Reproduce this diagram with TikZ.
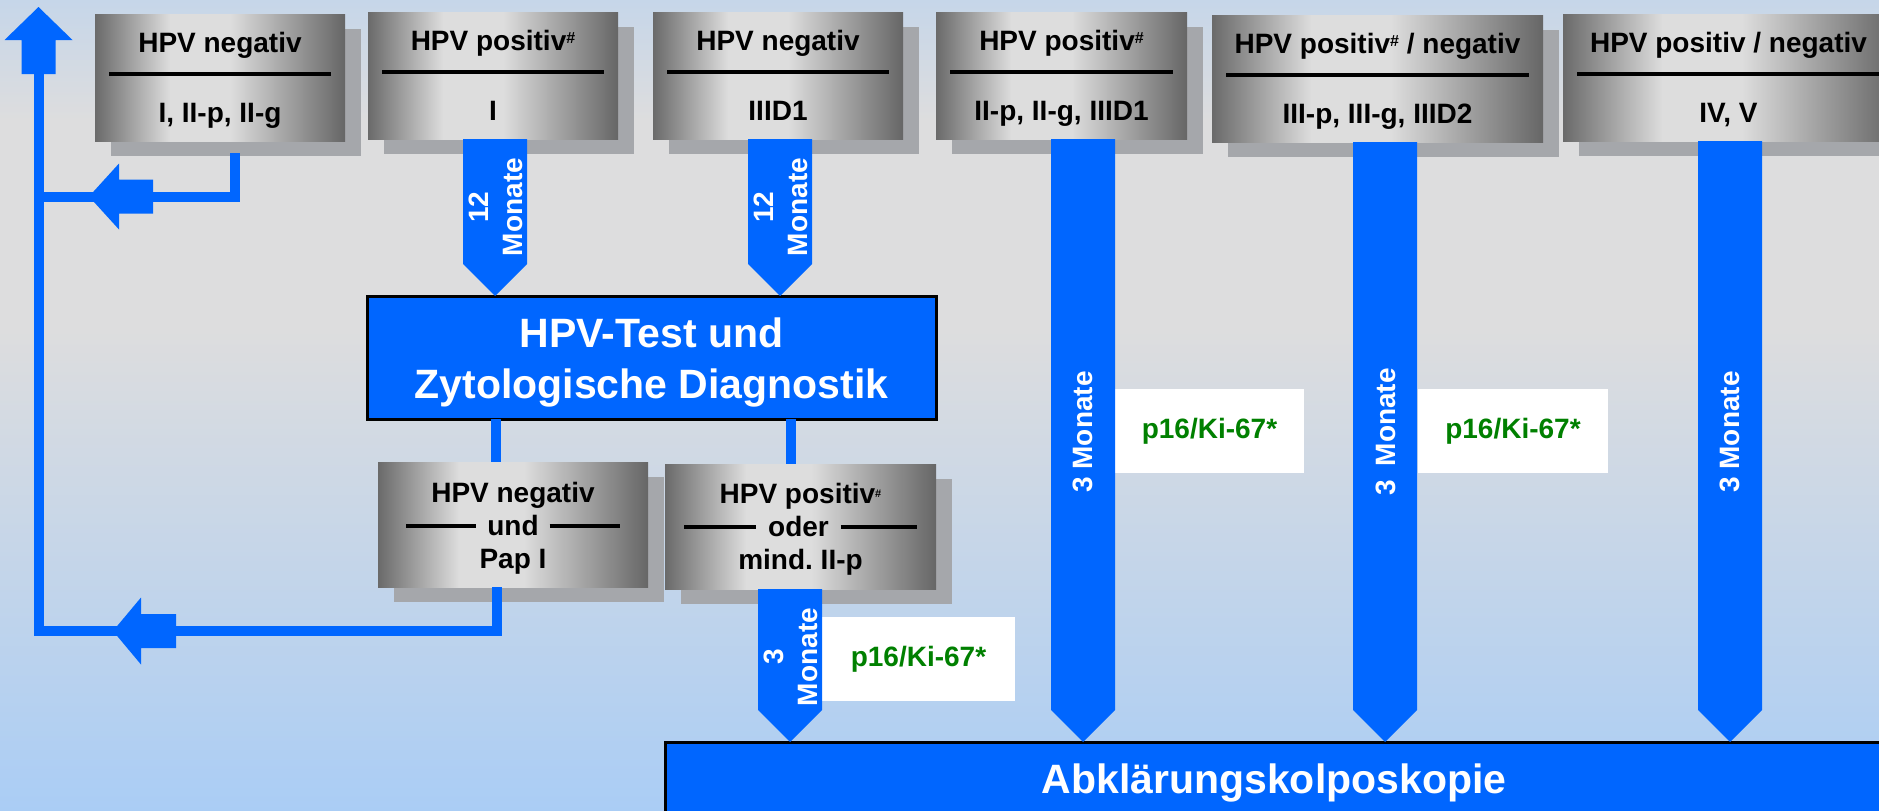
\documentclass[tikz,border=0pt]{standalone}
\usepackage{fontspec}
\setmainfont{Liberation Sans}
\usetikzlibrary{calc,shadows}
\frenchspacing
\definecolor{bgtop}{RGB}{198,214,233}
\definecolor{bgmid}{RGB}{221,221,222}
\definecolor{bgbot}{RGB}{170,205,245}
\definecolor{boxdark}{RGB}{106,106,106}
\definecolor{boxdarkR}{RGB}{102,102,102}
\definecolor{boxlight}{RGB}{221,221,221}
\definecolor{shadowc}{RGB}{165,167,171}
\definecolor{blueb}{RGB}{0,102,255}
\definecolor{greent}{RGB}{0,128,0}
\pgfdeclareverticalshading{bgshade}{100bp}{color(0bp)=(bgbot); color(25bp)=(bgbot); color(54.7bp)=(bgmid); color(67.6bp)=(bgmid); color(75bp)=(bgtop); color(100bp)=(bgtop)}
\pgfdeclarehorizontalshading{boxshade}{100bp}{color(0bp)=(boxdark); color(25bp)=(boxdark); color(40bp)=(boxlight); color(52bp)=(boxlight); color(75bp)=(boxdarkR); color(100bp)=(boxdarkR)}
\newcommand\hsh{\raisebox{7pt}{\fontsize{16pt}{16pt}\selectfont\#}}
\newcommand\hshs{\raisebox{6pt}{\fontsize{11pt}{11pt}\selectfont\#}}
\newcommand\downbar[2]{\fill[barfill] ($(#1)+(-32,0)$) -- ($(#1)+(32,0)$) -- ($(#2)+(32,-32)$) -- (#2) -- ($(#2)+(-32,-32)$) -- cycle;}
\begin{document}
\begin{tikzpicture}[x=1pt,y=-1pt,
  every node/.style={inner sep=0pt, outer sep=0pt},
  gbox/.style={shade, shading=boxshade, minimum height=127pt,
    drop shadow={shadow xshift=15.5pt, shadow yshift=-15pt, fill=shadowc, opacity=1}},
  lbox/.style={gbox, minimum height=125pt},
  txt/.style={font=\fontsize{28pt}{33pt}\selectfont\bfseries, text=black},
  bluebox/.style={fill=blueb, draw=black, line width=3pt},
  bigtxt/.style={font=\fontsize{41pt}{51pt}\selectfont\bfseries, text=white},
  rottxt/.style={font=\fontsize{28pt}{34pt}\selectfont\bfseries, text=white, rotate=90, align=center},
  greentxt/.style={font=\fontsize{28pt}{33pt}\selectfont\bfseries, text=greent},
  wbox/.style={fill=white, minimum height=84pt},
  sepl/.style={line width=4pt, draw=black},
  loopline/.style={draw=blueb, line width=10pt},
  barfill/.style={fill=blueb}]
\path[use as bounding box, clip] (0,0) rectangle (1879,811);
\shade[shading=bgshade] (0,0) rectangle (1879,811);

% top boxes
\node[gbox, minimum width=250pt] (b1) at (220,77.5) {};
\node[gbox, minimum width=250pt] (b2) at (493,75.5) {};
\node[gbox, minimum width=250pt] (b3) at (778,75.5) {};
\node[gbox, minimum width=251pt] (b4) at (1061.5,75.5) {};
\node[gbox, minimum width=331pt] (b5) at (1377.5,78.5) {};
\node[gbox, minimum width=331pt] (b6) at (1728.5,77.5) {};
% lower boxes
\node[lbox, minimum width=270pt] (b7) at (513,524.5) {};
\node[lbox, minimum width=271pt] (b8) at (800.5,526.5) {};
% blue boxes
\node[bluebox, minimum width=569pt, minimum height=123pt] (hpv) at (651.5,357.5) {};
\node[bluebox, anchor=north west, minimum width=1260pt, minimum height=120pt] (abk) at (665,742) {};
% white boxes
\node[wbox, greentxt, minimum width=189pt] (w1) at (1209.5,431) {p16/Ki-67*};
\node[wbox, greentxt, minimum width=190pt] (w2) at (1513,431) {p16/Ki-67*};
\node[wbox, greentxt, minimum width=193pt] (w3) at (918.5,659) {p16/Ki-67*};

% separators in top boxes
\foreach \b in {b1,b2,b3,b4,b5,b6}{
  \draw[sepl] ($(\b.north west)+(14,60)$) -- ($(\b.north east)+(-14,60)$);
}
% texts of top boxes
\node[txt, anchor=base] (t1a) at ($(b1.north)+(0,38)$) {HPV negativ};
\node[txt, anchor=base] (t1b) at ($(b1.north)+(0,108)$) {I, II-p, II-g};
\node[txt, anchor=base] (t2a) at ($(b2.north)+(0,38)$) {HPV positiv\hsh};
\node[txt, anchor=base] (t2b) at ($(b2.north)+(0,108)$) {I};
\node[txt, anchor=base] (t3a) at ($(b3.north)+(0,38)$) {HPV negativ};
\node[txt, anchor=base] (t3b) at ($(b3.north)+(0,108)$) {IIID1};
\node[txt, anchor=base] (t4a) at ($(b4.north)+(0,38)$) {HPV positiv\hsh};
\node[txt, anchor=base] (t4b) at ($(b4.north)+(0,108)$) {II-p, II-g, IIID1};
\node[txt, anchor=base] (t5a) at ($(b5.north)+(0,38)$) {HPV positiv\hsh\ / negativ};
\node[txt, anchor=base] (t5b) at ($(b5.north)+(0,108)$) {III-p, III-g, IIID2};
\node[txt, anchor=base] (t6a) at ($(b6.north)+(0,38)$) {HPV positiv / negativ};
\node[txt, anchor=base] (t6b) at ($(b6.north)+(0,108)$) {IV, V};
% texts of lower boxes (anchor base = baseline of last line)
\node[txt, anchor=base, align=center] (t7) at ($(b7.north)+(0,106)$)
  {HPV negativ\\\rule[7pt]{70pt}{4pt}\hspace{11pt}und\hspace{11pt}\rule[7pt]{70pt}{4pt}\\Pap I};
\node[txt, anchor=base, align=center] (t8) at ($(b8.north)+(0,105)$)
  {HPV positiv\hshs\\\rule[7pt]{72pt}{4pt}\hspace{12pt}oder\hspace{12pt}\rule[7pt]{76pt}{4pt}\\mind. II-p};
% texts of blue boxes
\node[bigtxt, anchor=base, align=center] (hpvt) at ($(hpv.north)+(0,102)$) {HPV-Test und\\Zytologische Diagnostik};
\node[bigtxt, anchor=base] (abkt) at ($(abk.north west)+(609,51)$) {Abklärungskolposkopie};

% bars
\coordinate (s2) at ($(b2.south)+(2,0)$);
\coordinate (s3) at ($(b3.south)+(2,0)$);
\coordinate (s4) at ($(b4.south)+(21.5,0)$);
\coordinate (s5) at ($(b5.south)+(7.5,0)$);
\coordinate (s6) at ($(b6.south)+(1.5,0)$);
\coordinate (s8) at ($(b8.south)+(-10.5,0)$);
\coordinate (e2) at (s2 |- hpv.north);
\coordinate (e3) at (s3 |- hpv.north);
\coordinate (e4) at (s4 |- abk.north);
\coordinate (e5) at (s5 |- abk.north);
\coordinate (e6) at (s6 |- abk.north);
\coordinate (e8) at (s8 |- abk.north);
\downbar{s2}{e2}
\downbar{s3}{e3}
\downbar{s4}{e4}
\downbar{s5}{e5}
\downbar{s6}{e6}
\downbar{s8}{e8}
\node[rottxt] (m2) at ($(s2)+(0.5,68)$) {12\\Monate};
\node[rottxt] (m3) at ($(s3)+(0.5,68)$) {12\\Monate};
\node[rottxt] (m4) at ($(s4)+(0,293)$) {3 Monate};
\node[rottxt] (m5) at ($(s5)+(0.5,290)$) {3\hspace{0.5em}Monate};
\node[rottxt] (m6) at ($(s6)+(0,291)$) {3 Monate};
\node[rottxt] (m8) at ($(s8)+(1,68)$) {3\\Monate};

% connectors from HPV-Test box
\coordinate (k7) at ($(b7.north)+(-17.5,0)$);
\coordinate (k8) at ($(b8.north)+(-10,0)$);
\draw[loopline] (k7 |- hpv.south) -- (k7);
\draw[loopline] (k8 |- hpv.south) -- (k8);

% loop back lines
\coordinate (uptip) at (38.5,7);
\coordinate (upbase) at (38.5,74);
\coordinate (loopT) at (38.5,196.5);
\coordinate (loopB) at (38.5,631);
\coordinate (k1) at ($(b1.south)+(14.5,12)$);
\coordinate (k7b) at ($(b7.south)+(-16,0)$);
\draw[loopline] (k1) |- (loopT);
\draw[loopline] (k7b) |- (loopB) -- (upbase);
\coordinate (ltT) at ($(loopT)+(50.5,0)$);
\coordinate (ltB) at ($(loopB)+(74.5,0)$);
\fill[barfill] (uptip) -- ++(34,33) -- ++(-17,0) -- ++(0,34) -- ++(-34,0) -- ++(0,-34) -- ++(-17,0) -- cycle;
\fill[barfill] (ltT) -- ++(30,-33) -- ++(0,16) -- ++(34,0) -- ++(0,34) -- ++(-34,0) -- ++(0,16) -- cycle;
\fill[barfill] (ltB) -- ++(28,-33.5) -- ++(0,16.5) -- ++(35,0) -- ++(0,34) -- ++(-35,0) -- ++(0,16.5) -- cycle;
\end{tikzpicture}
\end{document}
